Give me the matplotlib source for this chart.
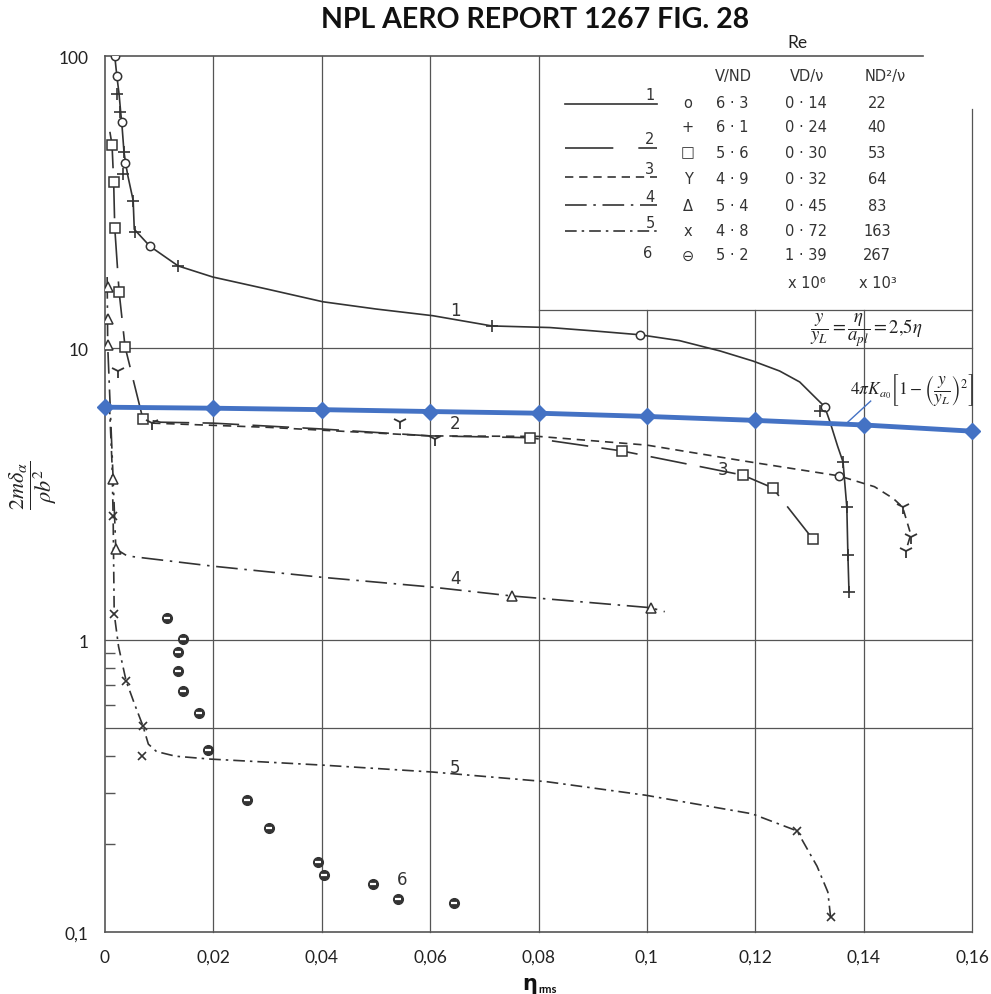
import matplotlib.pyplot as plt
from matplotlib.lines import Line2D
from matplotlib.ticker import FixedLocator, NullFormatter

plt.rcParams['mathtext.fontset'] = 'stix'
plt.rcParams['font.family'] = ['Lato', 'DejaVu Sans']

W, H = 991, 995
INK = '#333333'
GRID = '#555555'
BLUE = '#4472C4'

# ---- data (eta_rms, 2m*delta/(rho b^2)) ----
c1_x = [0.0018, 0.0022, 0.0026, 0.0029, 0.0031, 0.0035, 0.0038, 0.0042, 0.0052, 0.0054,
        0.0083, 0.0135, 0.0199, 0.030, 0.0402, 0.050, 0.0605, 0.0714, 0.0821, 0.090,
        0.0987, 0.106, 0.1135, 0.1196, 0.1245, 0.1282, 0.1314, 0.1328, 0.1338, 0.1352,
        0.1362, 0.1369, 0.1371, 0.1373]
c1_y = [100, 85, 74, 64, 59, 47, 43, 39, 32, 25.5,
        22.3, 19.1, 17.5, 15.9, 14.4, 13.6, 12.9, 11.9, 11.75, 11.45,
        11.1, 10.6, 9.77, 9.02, 8.34, 7.65, 6.68, 6.3, 5.58, 4.61,
        4.07, 2.85, 1.95, 1.46]

c2_x = [0.0009, 0.0013, 0.0016, 0.0018, 0.0026, 0.0037, 0.0070, 0.0103, 0.0199, 0.0400,
        0.0600, 0.0784, 0.0954, 0.1177, 0.1232, 0.1306]
c2_y = [55, 49.6, 37, 25.8, 15.6, 10.1, 5.71, 5.57, 5.53, 5.28,
        5.0, 4.93, 4.44, 3.67, 3.32, 2.22]

c3_x = [0.0087, 0.030, 0.060, 0.080, 0.100, 0.118, 0.1354, 0.142, 0.1455, 0.1472, 0.1487, 0.1478]
c3_y = [5.53, 5.35, 5.0, 4.98, 4.65, 4.1, 3.65, 3.35, 3.05, 2.85, 2.3, 2.02]

c4_x = [0.0004, 0.0005, 0.0015, 0.0020, 0.0041, 0.0199, 0.0400, 0.0600, 0.0751, 0.0821, 0.1007, 0.1033]
c4_y = [17.5, 10.2, 3.56, 2.05, 1.94, 1.79, 1.64, 1.52, 1.415, 1.38, 1.29, 1.25]

c5_x = [0.0008, 0.0013, 0.0015, 0.0017, 0.0025, 0.0039, 0.0055, 0.0070, 0.0080, 0.0095,
        0.0130, 0.0194, 0.0400, 0.0605, 0.0816, 0.0998, 0.1194, 0.1277, 0.1314, 0.1334, 0.1339]
c5_y = [6.5, 4.0, 2.66, 1.23, 0.95, 0.724, 0.60, 0.508, 0.44, 0.415,
        0.40, 0.391, 0.373, 0.353, 0.327, 0.294, 0.254, 0.222, 0.168, 0.137, 0.1125]

circ_x = [0.0018, 0.0022, 0.0031, 0.0037, 0.0083, 0.0987, 0.1328, 0.1354]
circ_y = [100, 85.4, 59.4, 43.0, 22.3, 11.1, 6.3, 3.65]
plus_x = [0.0022, 0.0028, 0.0035, 0.0033, 0.0052, 0.0055, 0.0135, 0.0714,
          0.1319, 0.1362, 0.1369, 0.1371, 0.1373]
plus_y = [74, 64.3, 46.9, 39.4, 31.9, 25.0, 19.1, 11.9, 6.1, 4.07, 2.85, 1.95, 1.46]
sq_x = [0.0013, 0.0017, 0.0018, 0.0026, 0.0037, 0.0070, 0.0784, 0.0954, 0.1177, 0.1232, 0.1306]
sq_y = [49.6, 37.0, 25.8, 15.6, 10.1, 5.71, 4.93, 4.44, 3.67, 3.32, 2.22]
yy_x = [0.0024, 0.0087, 0.0544, 0.0609, 0.1472, 0.1487, 0.1478]
yy_y = [8.34, 5.53, 5.6, 4.88, 2.85, 2.25, 2.02]
tri_x = [0.00055, 0.00055, 0.00055, 0.0015, 0.0020, 0.0751, 0.1007]
tri_y = [16.2, 12.6, 10.2, 3.56, 2.05, 1.415, 1.29]
crs_x = [0.0015, 0.0017, 0.0039, 0.0070, 0.0068, 0.1277, 0.1339]
crs_y = [2.66, 1.23, 0.724, 0.508, 0.40, 0.222, 0.1125]
dot_x = [0.0114, 0.0144, 0.0135, 0.0135, 0.0144, 0.0173, 0.0190, 0.0262, 0.0303,
         0.0393, 0.0404, 0.0494, 0.0541, 0.0644]
dot_y = [1.19, 1.007, 0.909, 0.783, 0.669, 0.562, 0.420, 0.283, 0.227,
         0.174, 0.157, 0.146, 0.130, 0.126]

theory_x = [0, 0.02, 0.04, 0.06, 0.08, 0.10, 0.12, 0.14, 0.16]
theory_y = [6.27, 6.22, 6.15, 6.06, 5.98, 5.83, 5.65, 5.45, 5.19]

xticks = [0, 0.02, 0.04, 0.06, 0.08, 0.10, 0.12, 0.14, 0.16]
xtick_labels = ['0', '0,02', '0,04', '0,06', '0,08', '0,1', '0,12', '0,14', '0,16']
yticks = [0.1, 1, 10, 100]
ytick_labels = ['0,1', '1', '10', '100']

leg_sym = ['o', '+', '\u25a1', 'Y', '\u0394', 'x', '\u2296']
leg_vnd = ['6 \u00b7 3', '6 \u00b7 1', '5 \u00b7 6', '4 \u00b7 9', '5 \u00b7 4', '4 \u00b7 8', '5 \u00b7 2']
leg_vd = ['0 \u00b7 14', '0 \u00b7 24', '0 \u00b7 30', '0 \u00b7 32', '0 \u00b7 45', '0 \u00b7 72', '1 \u00b7 39']
leg_nd2 = ['22', '40', '53', '64', '83', '163', '267']


def fp(x, y):
    # pixel position in the 991x995 picture -> figure fraction
    return x / W, 1 - y / H


fig = plt.figure(figsize=(W / 100, H / 100), dpi=100)
ax = fig.add_axes([105 / W, 1 - 933 / H, (972 - 105) / W, (933 - 57) / H])
ax.set_yscale('log')
ax.set_xlim(0, 0.16)
ax.set_ylim(0.1, 100)

for s in ['top', 'right']:
    ax.spines[s].set_visible(False)
for s in ['left', 'bottom']:
    ax.spines[s].set_color(GRID)
    ax.spines[s].set_linewidth(1.2)

# grid as drawn on the original sheet (partly hidden behind the key box)
gkw = dict(color=GRID, lw=0.9, zorder=1, clip_on=False)
for gx in [0.02, 0.04, 0.06, 0.08]:
    ax.plot([gx, gx], [0.1, 100], **gkw)
for gx in [0.10, 0.12, 0.14]:
    ax.plot([gx, gx], [0.1, 13.5], **gkw)
ax.plot([0.16, 0.16], [0.1, 66], **gkw)
for gy in [0.5, 1, 10]:
    ax.plot([0, 0.16], [gy, gy], **gkw)
ax.plot([0.08, 0.16], [13.5, 13.5], **gkw)
ax.plot([0, 0.151], [100, 100], color=GRID, lw=1.2, zorder=1, clip_on=False)

ax.set_xticks(xticks)
ax.set_xticklabels(xtick_labels)
ax.set_yticks(yticks)
ax.set_yticklabels(ytick_labels)
ax.yaxis.set_minor_locator(FixedLocator([0.2, 0.3, 0.4, 0.6, 0.7, 0.8, 0.9]))
ax.yaxis.set_minor_formatter(NullFormatter())
ax.tick_params(which='major', length=0, labelsize=12.5, pad=12, colors='#222222')
ax.tick_params(which='minor', direction='in', length=7, width=1, color=GRID)

# curves
lkw = dict(color=INK, lw=1.2, zorder=3)
ax.plot(c1_x, c1_y, ls='-', **lkw)
ax.plot(c2_x, c2_y, ls=(0, (22, 8)), **lkw)
ax.plot(c3_x, c3_y, ls=(0, (5, 3.5)), **lkw)
ax.plot(c4_x, c4_y, ls=(0, (13, 4, 1.5, 4)), **lkw)
ax.plot(c5_x, c5_y, ls=(0, (7, 3, 1.5, 3)), **lkw)

mkw = dict(ls='none', color=INK, zorder=4)
ax.plot(circ_x, circ_y, marker='o', ms=6, mfc='white', mew=1.1, **mkw)
ax.plot(plus_x, plus_y, marker='+', ms=8, mew=1.2, **mkw)
ax.plot(sq_x, sq_y, marker='s', ms=6.5, mfc='white', mew=1.1, **mkw)
ax.plot(yy_x, yy_y, marker='1', ms=10, mew=1.3, **mkw)
ax.plot(tri_x, tri_y, marker='^', ms=7, mfc='white', mew=1.1, **mkw)
ax.plot(crs_x, crs_y, marker='x', ms=6, mew=1.2, **mkw)
ax.plot(dot_x, dot_y, marker='o', ms=7, mfc=INK, mec=INK, **mkw)
ax.plot(dot_x, dot_y, marker='_', ms=5, mew=1.6, ls='none', color='white', zorder=5)

# theory line
ax.plot(theory_x, theory_y, color=BLUE, lw=3.5, marker='D', ms=8, zorder=6, clip_on=False)

# curve numbers
tkw = dict(color=INK, fontsize=12, family='DejaVu Sans', ha='center', va='center', zorder=7)
ax.text(0.0646, 13.5, '1', **tkw)
ax.text(0.0646, 5.53, '2', **tkw)
ax.text(0.114, 3.85, '3', **tkw)
ax.text(0.0646, 1.63, '4', **tkw)
ax.text(0.0646, 0.367, '5', **tkw)
ax.text(0.0548, 0.152, '6', **tkw)

# formulas
ax.plot([0.1371, 0.1413], [5.58, 6.58], color=BLUE, lw=1, zorder=6)
ax.text(0.1490, 7.25, r'$4\pi K_{a_0}\left[1-\left(\dfrac{y}{y_L}\right)^2\right]$',
        fontsize=12.5, ha='center', va='center', color='#222222', zorder=7)
ax.text(0.1405, 11.6, r'$\dfrac{y}{y_L}=\dfrac{\eta}{a_{pl}}=2{,}5\eta$',
        fontsize=13.5, ha='center', va='center', color='#222222', zorder=7)

# titles and axis labels
fig.text(*fp(535, 20), 'NPL AERO REPORT 1267 FIG. 28', fontsize=20.5, weight='bold',
         ha='center', va='center', color='#111111')
fig.text(*fp(797, 43), 'Re', fontsize=12.5, ha='center', va='center', color='#222222')
fig.text(*fp(537, 984), '\u03b7', fontsize=15, weight='bold', ha='right', va='center',
         family='DejaVu Sans', color='#111111')
fig.text(*fp(538, 990), 'rms', fontsize=8, weight='bold', ha='left', va='center',
         color='#111111')
fig.text(*fp(33, 485), r'$\dfrac{2m\delta_\alpha}{\rho b^2}$', fontsize=16, rotation=90,
         ha='center', va='center', color='#222222')

# key box
kkw = dict(color=INK, fontsize=10.5, family='DejaVu Sans', ha='center', va='center')
fig.text(*fp(733, 77), 'V/ND', **kkw)
fig.text(*fp(807, 77), 'VD/\u03bd', **kkw)
fig.text(*fp(885, 76), 'ND\u00b2/\u03bd', **kkw)
rows = [103, 128, 153, 180, 207, 232, 256]
for i, ry in enumerate(rows):
    fig.text(*fp(688, ry), leg_sym[i], **kkw)
    fig.text(*fp(732, ry), leg_vnd[i], **kkw)
    fig.text(*fp(806, ry), leg_vd[i], **kkw)
    fig.text(*fp(877, ry), leg_nd2[i], **kkw)
fig.text(*fp(807, 284), 'x 10\u2076', **kkw)
fig.text(*fp(878, 284), 'x 10\u00b3', **kkw)

styles = ['-', (0, (29, 15)), (0, (5, 3.5)), (0, (13, 4, 1.5, 4)), (0, (7, 3, 1.5, 3))]
key_y = [105, 149, 178, 206, 232]
for n, (st, ky) in enumerate(zip(styles, key_y)):
    x0, y0 = fp(565, ky)
    x1, _ = fp(657, ky)
    fig.add_artist(Line2D([x0, x1], [y0, y0], color=INK, lw=1.2, ls=st))
    fig.text(*fp(650, ky - 9), str(n + 1), **kkw)
fig.text(*fp(648, 253), '6', **kkw)

fig.savefig('out.png', dpi=100)
